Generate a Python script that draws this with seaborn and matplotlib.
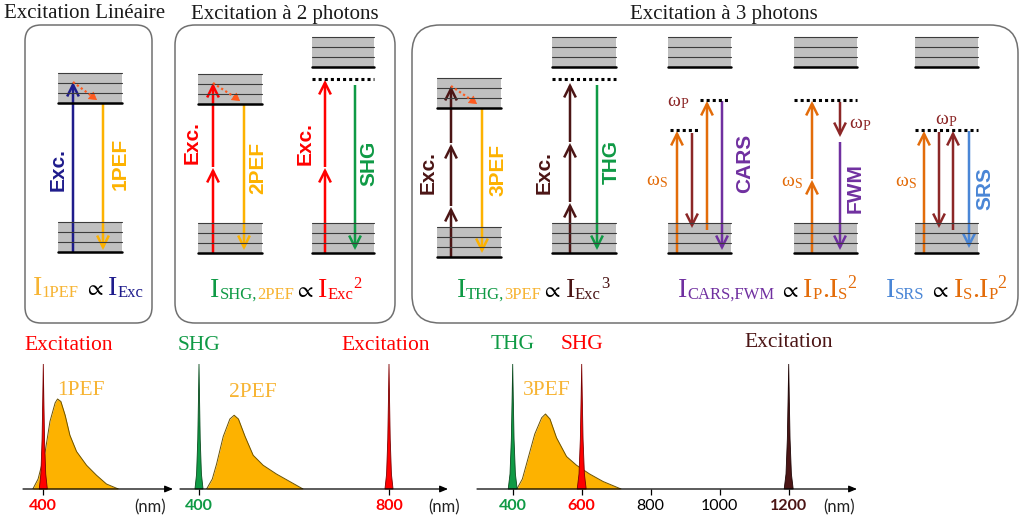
import matplotlib
matplotlib.use('Agg')
import matplotlib.pyplot as plt
from matplotlib.patches import FancyBboxPatch, Rectangle, FancyArrowPatch
import seaborn as sns

sns.set_theme(style='white')
SERIF = ['Liberation Serif', 'DejaVu Serif']
SANS = ['Liberation Sans', 'DejaVu Sans']
plt.rcParams['font.family'] = SERIF
plt.rcParams['mathtext.fontset'] = 'stix'

NAVY = '#1f1c8c'
AMBER = '#fdb200'
LAMBER = '#f7b433'
RED = '#ff0000'
GREEN = '#0f9a45'
BROWN = '#4b1515'
ORANGE = '#e36c0a'
DKRED = '#8c2727'
PURPLE = '#7030a0'
BLUE = '#4a86d6'
RELAX = '#ff5a1e'

# ---------------- top: energy diagrams (pixel layout) ----------------
titles = ['Excitation Linéaire', 'Excitation à 2 photons', 'Excitation à 3 photons']
title_x = [85, 285, 724]
box_left = [25, 175, 412]
box_right = [152, 395, 1018]
box_radius = [16, 20, 28]

# one entry per diagram: 1PEF, 2PEF, SHG, 3PEF, THG, CARS, FWM, SRS
lvl_x0 = [58, 198, 312, 437, 552, 668, 794, 915]
lvl_x1 = [122, 262, 374, 501, 616, 731, 857, 978]
upper_top = [73, 74, 37, 78, 37, 37, 37, 37]
lower_top = [222, 223, 223, 227, 223, 223, 223, 223]

# virtual levels (dotted)
virt_x0 = [312, 552, 670, 700, 794, 915]
virt_x1 = [374, 616, 700, 730, 857, 978]
virt_y = [79, 79, 130, 100, 100, 130]

arr_x = [73, 103,
         213, 213, 244, 325, 325, 355,
         451, 451, 451, 482, 570, 570, 570, 597,
         677, 692, 707, 722, 812, 812, 840, 840,
         924, 939, 953, 969]
arr_from = [252, 104,
            253, 167, 104, 253, 167, 85,
            257, 206, 143, 108, 253, 202, 142, 85,
            253, 133, 230, 101, 253, 179, 102, 142,
            253, 132, 230, 131]
arr_to = [82, 250,
          168, 83, 250, 168, 80, 250,
          207, 144, 86, 253, 203, 143, 83, 250,
          131, 228, 101, 250, 180, 101, 137, 250,
          131, 228, 131, 248]
arr_col = [NAVY, AMBER,
           RED, RED, AMBER, RED, RED, GREEN,
           BROWN, BROWN, BROWN, AMBER, BROWN, BROWN, BROWN, GREEN,
           ORANGE, DKRED, ORANGE, PURPLE, ORANGE, ORANGE, DKRED, PURPLE,
           ORANGE, DKRED, DKRED, BLUE]

relax_x0 = [73, 213, 451]
relax_y0 = [82, 83, 86]
relax_x1 = [97, 240, 477]
relax_y1 = [100, 101, 104]

lab_txt = ['Exc.', '1PEF', 'Exc.', '2PEF', 'Exc.', 'SHG', 'Exc.', '3PEF',
           'Exc.', 'THG', 'CARS', 'FWM', 'SRS']
lab_x = [58, 120, 192, 258, 305, 369, 428, 498, 544, 611, 745, 855, 985]
lab_y = [170, 164, 143, 168, 144, 163, 173, 170, 173, 162, 163, 188, 188]
lab_col = [NAVY, AMBER, RED, AMBER, RED, GREEN, BROWN, AMBER, BROWN, GREEN,
           PURPLE, PURPLE, BLUE]

omega_sub = ['P', 'S', 'S', 'P', 'P', 'S']
omega_x = [678, 657, 792, 860, 946, 906]
omega_y = [106, 185, 186, 128, 124, 186]
omega_col = [DKRED, ORANGE, ORANGE, DKRED, DKRED, ORANGE]

# formulas: pieces (text, colour, size, shift)
PROP = r'$\propto$'
formulas = [
    [('I', LAMBER, 20, 0), ('1PEF', LAMBER, 12, 2), (' ', 'black', 14, 0),
     (PROP, 'black', 16, 0), (' ', 'black', 14, 0),
     ('I', NAVY, 20, 0), ('Exc', NAVY, 12, 2)],
    [('I', GREEN, 20, 0), ('SHG,', GREEN, 12, 2), ('2PEF', LAMBER, 12, 2),
     (PROP, 'black', 16, 0), (' ', 'black', 14, 0), ('I', RED, 20, 0),
     ('Exc', RED, 12, 2), ('2', RED, 12, -9)],
    [('I', GREEN, 20, 0), ('THG,', GREEN, 12, 2), ('3PEF', LAMBER, 12, 2),
     (PROP, 'black', 16, 0), (' ', 'black', 14, 0), ('I', BROWN, 20, 0),
     ('Exc', BROWN, 12, 2), ('3', BROWN, 12, -9)],
    [('I', PURPLE, 20, 0), ('CARS,FWM', PURPLE, 12, 2), (' ', 'black', 14, 0),
     (PROP, 'black', 16, 0), (' ', 'black', 14, 0),
     ('I', ORANGE, 20, 0), ('P', ORANGE, 12, 2), ('.', ORANGE, 20, 0),
     ('I', ORANGE, 20, 0), ('S', ORANGE, 12, 2), ('2', ORANGE, 13, -9)],
    [('I', BLUE, 20, 0), ('SRS', BLUE, 12, 2), (' ', 'black', 14, 0),
     (PROP, 'black', 16, 0), (' ', 'black', 14, 0),
     ('I', ORANGE, 20, 0), ('S', ORANGE, 12, 2), ('.', ORANGE, 20, 0),
     ('I', ORANGE, 20, 0), ('P', ORANGE, 12, 2), ('2', ORANGE, 13, -9)],
]
formula_x = [88, 286, 533, 767, 946]
formula_y = [295, 297, 297, 297, 297]

# ---------------- bottom: spectra ----------------
spec_px = [(23, 173), (180, 448), (477, 857)]
ref400_px = [43.3, 199, 512.7]
px_per_nm = [0.475, 0.475, 0.345]

pef_nm = [[378, 389, 404, 414, 425, 430, 437, 446, 456, 470, 491, 512, 533, 558],
          [416, 428, 437, 451, 465, 474, 483, 497, 514, 535, 563, 591, 619],
          [412, 428, 440, 464, 484, 495, 508, 527, 556, 585, 623, 662, 714]]
pef_int = [[0, .08, .30, .54, .69, .72, .70, .59, .43, .30, .19, .11, .04, 0],
           [0, .08, .20, .42, .56, .59, .56, .42, .27, .19, .12, .06, 0],
           [0, .08, .20, .44, .57, .60, .56, .41, .26, .19, .12, .06, 0]]

spike_pos = [[400], [400, 800], [400, 600, 1200]]
spike_col = [[RED], [GREEN, RED], [GREEN, RED, BROWN]]
spike_edge = [['#7a0000'], ['#0a4a1e', '#7a0000'], ['#0a4a1e', '#7a0000', '#1e0505']]
spike_hw = [8.5, 8.5, 13]
spike_dx = [-1, -0.6, -0.3, -0.12, 0, 0.12, 0.3, 0.6, 1]
spike_h = [0, 0.12, 0.4, 0.75, 1, 0.75, 0.4, 0.12, 0]

tick_vals = [[400], [400, 800], [400, 600, 800, 1000, 1200]]
tick_cols = [[RED], [GREEN, RED], [GREEN, RED, 'black', 'black', BROWN]]
tick_bold = [[True], [True, True], [True, True, False, False, True]]
nm_px = [150, 444, 839]

slab_txt = [['Excitation', '1PEF'], ['SHG', '2PEF', 'Excitation'],
            ['THG', 'SHG', '3PEF', 'Excitation']]
slab_nm = [[454, 480], [400, 514, 793], [401, 602, 498, 1199]]
slab_y = [[1.15, 0.79], [1.15, 0.77, 1.15], [1.156, 1.156, 0.79, 1.17]]
slab_col = [[RED, LAMBER], [GREEN, LAMBER, RED], [GREEN, RED, LAMBER, BROWN]]

W, H = 1024, 516
BASE, TOP = 489, 364

fig = plt.figure(figsize=(W / 100, H / 100), dpi=100)
fig.patch.set_facecolor('white')
ax = fig.add_axes([0, 0, 1, 1])
ax.set_xlim(0, W)
ax.set_ylim(H, 0)
ax.axis('off')
renderer = fig.canvas.get_renderer()

for t, x in zip(titles, title_x):
    ax.text(x, 14, t, ha='center', va='center', fontsize=15, color='#1a1a1a')
for l, r, rad in zip(box_left, box_right, box_radius):
    ax.add_patch(FancyBboxPatch((l, 25), r - l, 298,
                                boxstyle='round,pad=0,rounding_size=%d' % rad,
                                fc='none', ec='#707070', lw=1.1))

for x0, x1, ut, lt in zip(lvl_x0, lvl_x1, upper_top, lower_top):
    for top in (ut, lt):
        ax.add_patch(Rectangle((x0, top), x1 - x0, 30, fc='#c0c0c0', ec='none'))
        for k in range(3):
            ax.plot([x0, x1], [top + 10 * k, top + 10 * k], color='#3c3c3c', lw=0.8)
        ax.plot([x0, x1], [top + 30, top + 30], color='black', lw=1.8)

for x0, x1, y in zip(virt_x0, virt_x1, virt_y):
    ax.plot([x0, x1], [y, y], color='black', lw=2.2, ls=(0, (1, 1)))

for x, y0, y1, c in zip(arr_x, arr_from, arr_to, arr_col):
    ax.add_patch(FancyArrowPatch((x, y0), (x, y1),
                                 arrowstyle='->,head_length=0.6,head_width=0.3',
                                 mutation_scale=14, lw=1.8, color=c,
                                 shrinkA=0, shrinkB=0, joinstyle='miter',
                                 capstyle='butt'))

for x0, y0, x1, y1 in zip(relax_x0, relax_y0, relax_x1, relax_y1):
    ax.plot([x0, x1 - 4], [y0, y1 - 3], color=RELAX, lw=1.6, ls=(0, (1, 1.2)))
    ax.add_patch(FancyArrowPatch((x1 - 6, y1 - 4.5), (x1, y1),
                                 arrowstyle='-|>,head_length=0.5,head_width=0.3',
                                 mutation_scale=10, lw=0.5, color=RELAX,
                                 shrinkA=0, shrinkB=0))

for s, x, y, c in zip(lab_txt, lab_x, lab_y, lab_col):
    ax.text(x, y, s, rotation=90, ha='center', va='center', color=c,
            fontsize=15, fontweight='bold', family=SANS)


def rich(xc, y, pieces):
    arts = []
    pos = 0.0
    for s, c, fs, dy in pieces:
        t = ax.text(0, y + dy, s, color=c, fontsize=fs, family=SERIF,
                    ha='left', va='baseline')
        arts.append((t, pos))
        pos += t.get_window_extent(renderer).width
    for t, off in arts:
        t.set_x(xc - pos / 2 + off)


for sub, x, y, c in zip(omega_sub, omega_x, omega_y, omega_col):
    rich(x, y, [('\u03c9', c, 14, 0), (sub, c, 10, 2)])

for pieces, x, y in zip(formulas, formula_x, formula_y):
    rich(x, y, pieces)

# spectra
for i in range(3):
    xa, xb = spec_px[i]
    lo = 400 + (xa - ref400_px[i]) / px_per_nm[i]
    hi = 400 + (xb - ref400_px[i]) / px_per_nm[i]
    sx = fig.add_axes([xa / W, (H - BASE) / H, (xb - xa) / W, (BASE - TOP) / H])
    sx.set_facecolor('none')
    sx.set_xlim(lo, hi)
    sx.set_ylim(0, 1)
    for sp in sx.spines.values():
        sp.set_visible(False)

    sx.fill_between(pef_nm[i], pef_int[i], 0, color=AMBER, lw=0, zorder=2)
    sns.lineplot(x=pef_nm[i], y=pef_int[i], ax=sx, color='#6b5200', lw=0.7,
                 sort=False, zorder=3)
    for p, c, e in zip(spike_pos[i], spike_col[i], spike_edge[i]):
        xs = [p + d * spike_hw[i] for d in spike_dx]
        sx.fill(xs, spike_h, fc=c, ec=e, lw=0.6, zorder=4, clip_on=False)

    sx.annotate('', xy=(1, 0), xytext=(0, 0), xycoords='axes fraction',
                arrowprops=dict(arrowstyle='-|>,head_length=0.6,head_width=0.25',
                                color='black', lw=0.9, mutation_scale=8,
                                shrinkA=0, shrinkB=0), zorder=5)
    sx.set_xticks(tick_vals[i])
    sx.set_xticklabels([str(v) for v in tick_vals[i]])
    sx.set_yticks([])
    sx.tick_params(axis='x', bottom=True, length=4, width=0.9, color='black',
                   pad=3, labelsize=11.5)
    for lab, c, b in zip(sx.get_xticklabels(), tick_cols[i], tick_bold[i]):
        lab.set_color(c)
        lab.set_fontweight('bold' if b else 'normal')
        lab.set_family(['Lato', 'DejaVu Sans'])
    sx.text((nm_px[i] - xa) / (xb - xa), (BASE - 507) / (BASE - TOP), '(nm)',
            transform=sx.transAxes, ha='center', va='center', fontsize=12,
            family=['Lato', 'DejaVu Sans'], color='#222222')
    for s, xn, yn, c in zip(slab_txt[i], slab_nm[i], slab_y[i], slab_col[i]):
        sx.text(xn, yn, s, ha='center', va='center', fontsize=15.5, color=c,
                clip_on=False)
    sx.set_xlabel('')
    sx.set_ylabel('')

fig.savefig('out.png', dpi=100)
